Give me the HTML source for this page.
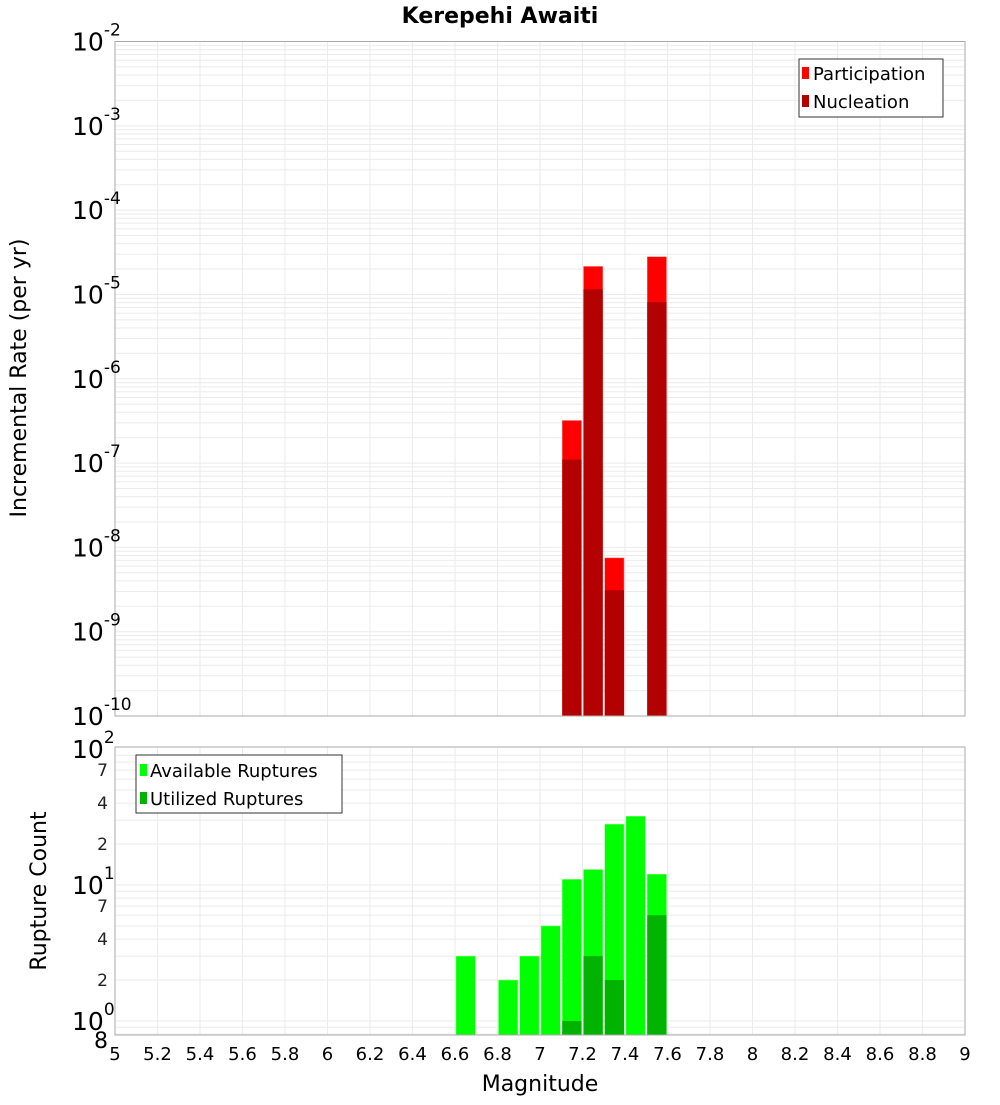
<!DOCTYPE html>
<html><head><meta charset="utf-8"><style>
body{margin:0;background:#fff;font-family:"Liberation Sans","DejaVu Sans",sans-serif}
svg text{font-family:"DejaVu Sans","Liberation Sans",sans-serif}
</style></head><body>
<svg id="c" width="1000" height="1100" xmlns="http://www.w3.org/2000/svg"></svg>
<script>
const mags = [6.65,6.75,6.85,6.95,7.05,7.15,7.25,7.35,7.45,7.55];
const rateMags = [7.15,7.25,7.35,7.55];
const participation = [3.2e-7,2.15e-5,7.5e-9,2.8e-5];
const nucleation = [1.1e-7,1.15e-5,3.1e-9,8.1e-6];
const available = [3,0,2,3,5,11,13,28,32,12];
const utilized = [0,0,0,0,0,1,3,2,0,6];
const xTicks = [5,5.2,5.4,5.6,5.8,6,6.2,6.4,6.6,6.8,7,7.2,7.4,7.6,7.8,8,8.2,8.4,8.6,8.8,9];
const topExps = [-10,-9,-8,-7,-6,-5,-4,-3,-2];

const NS="http://www.w3.org/2000/svg", svg=document.getElementById('c');
function el(t,a,p){const e=document.createElementNS(NS,t);for(const k in a)e.setAttribute(k,a[k]);(p||svg).appendChild(e);return e;}
const X0=115,X1=965;
const xs=m=>X0+(m-5)/4*(X1-X0);
const T0=41.5,T1=716;
const yt=v=>T1-(Math.log10(v)+10)/8*(T1-T0);
const B0=747,B1=1035,D=136,B10=1021;
const yb=v=>B10-Math.log10(v)*D;

// title
let t=el('text',{x:500,y:23,'text-anchor':'middle','font-size':22,'font-weight':'bold'});t.textContent='Kerepehi Awaiti';


function panel(y0,y1,name){
  el('rect',{x:X0,y:y0,width:X1-X0,height:y1-y0,fill:'#fff',stroke:'none'});
  const g=el('g',{stroke:'#ebebeb','stroke-width':1});
  
  xTicks.forEach(m=>el('line',{x1:xs(m),x2:xs(m),y1:y0,y2:y1},g));
  return g;
}
// top panel
const gt=panel(T0,T1,'rate');
for(let e=-10;e<-2;e++)for(let k=1;k<10;k++){const y=yt(k*Math.pow(10,e));el('line',{x1:X0,x2:X1,y1:y,y2:y},gt);}
rateMags.forEach((m,i)=>{
  let r=el('rect',{x:xs(m-0.05)+1,y:yt(participation[i]),width:xs(m+0.05)-xs(m-0.05)-2,height:T1-yt(participation[i]),fill:'#ff0000',stroke:'#ff8080','stroke-width':0.5});
  
  r=el('rect',{x:xs(m-0.05)+1,y:yt(nucleation[i]),width:xs(m+0.05)-xs(m-0.05)-2,height:T1-yt(nucleation[i]),fill:'#b30000'});
  
});
el('rect',{x:X0,y:T0,width:X1-X0,height:T1-T0,fill:'none',stroke:'#aaa'});
topExps.forEach(e=>{
  const y=yt(Math.pow(10,e));
  const tx=el('text',{x:72,y:y+9,'font-size':25});
  
  tx.textContent='10';
  const s=el('tspan',{dy:-15,'font-size':17},tx);s.textContent=String(e);
});
t=el('text',{x:26,y:378,'font-size':22,'text-anchor':'middle',transform:'rotate(-90 26 378)'});t.textContent='Incremental Rate (per yr)';

// top legend
let lg=el('g',{});
el('rect',{x:799,y:59,width:144,height:58,fill:'#fff',stroke:'#333'},lg);
el('rect',{x:802,y:67,width:7,height:12,fill:'#ff0000'},lg);
el('rect',{x:802,y:95,width:7,height:12,fill:'#b30000'},lg);
t=el('text',{x:813,y:80,'font-size':18},lg);t.textContent='Participation';
t=el('text',{x:813,y:108,'font-size':18},lg);t.textContent='Nucleation';

// bottom panel
const gb=panel(B0,B1,'count');
for(let e=-1;e<2;e++)for(let k=1;k<10;k++){const v=k*Math.pow(10,e);const y=yb(v);if(y<=B1&&y>=B0)el('line',{x1:X0,x2:X1,y1:y,y2:y},gb);}
mags.forEach((m,i)=>{
  if(available[i]>0){const r=el('rect',{x:xs(m-0.05)+1,y:yb(available[i]),width:xs(m+0.05)-xs(m-0.05)-2,height:B1-yb(available[i]),fill:'#00ff00',stroke:'#80ff80','stroke-width':0.5});
  }
  if(utilized[i]>0){const r=el('rect',{x:xs(m-0.05)+1,y:yb(utilized[i]),width:xs(m+0.05)-xs(m-0.05)-2,height:B1-yb(utilized[i]),fill:'#00b300'});
  }
});
el('rect',{x:X0,y:B0,width:X1-X0,height:B1-B0,fill:'none',stroke:'#aaa'});
[[1,'0'],[10,'1'],[100,'2']].forEach(([v,e])=>{
  const tx=el('text',{x:72,y:yb(v)+9,'font-size':25});tx.textContent='10';
  
  const s=el('tspan',{dy:-15,'font-size':17},tx);s.textContent=e;
});
[2,4,7,20,40,70,0.8].forEach(v=>{
  const tx=el('text',{x:108,y:yb(v)+6,'font-size':17,'text-anchor':'end',fill:'#222'});
  if(v===0.8){tx.setAttribute('font-size',22);tx.setAttribute('fill','#000');tx.setAttribute('y',yb(v)+14);}
  tx.textContent=String(v<1?8:(v>=10?v/10:v));
  
});
t=el('text',{x:46,y:891,'font-size':22,'text-anchor':'middle',transform:'rotate(-90 46 891)'});t.textContent='Rupture Count';

lg=el('g',{});
el('rect',{x:136,y:755,width:206,height:58,fill:'#fff',stroke:'#333'},lg);
el('rect',{x:140,y:764,width:7,height:12,fill:'#00ff00'},lg);
el('rect',{x:140,y:792,width:7,height:12,fill:'#00b300'},lg);
t=el('text',{x:150,y:777,'font-size':18},lg);t.textContent='Available Ruptures';
t=el('text',{x:150,y:805,'font-size':18},lg);t.textContent='Utilized Ruptures';

// x axis
xTicks.forEach(m=>{
  const tx=el('text',{x:xs(m),y:1060,'font-size':18,'text-anchor':'middle'});tx.textContent=String(m);
  
});
t=el('text',{x:540,y:1091,'font-size':22,'text-anchor':'middle'});t.textContent='Magnitude';

</script>
</body></html>
